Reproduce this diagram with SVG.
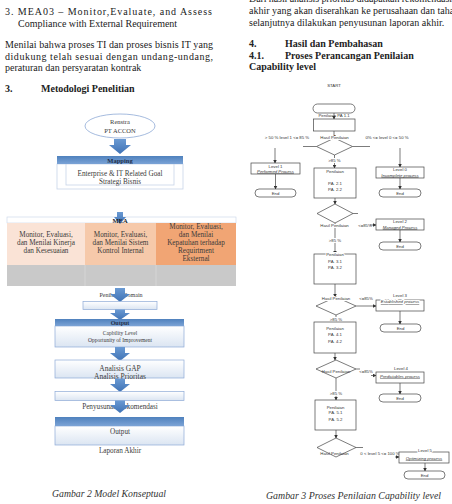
<svg xmlns="http://www.w3.org/2000/svg" width="452" height="504" viewBox="0 0 452 504">
<defs>
<style>
.body{font-family:"Liberation Serif","Times New Roman",serif;font-size:10px;fill:#222}
.bold{font-weight:bold}
.cap{font-family:"Liberation Serif",serif;font-size:11.2px;font-style:italic;fill:#333}
.lt{font-family:"Liberation Serif",serif;font-size:7.2px;fill:#3a3a3a;text-anchor:middle}
.fl{stroke:#444;stroke-width:0.7;fill:none}
.fb{stroke:#444;stroke-width:0.7;fill:#fff}
.ft{font-family:"Liberation Sans",Arial,sans-serif;font-size:4.3px;fill:#333;text-anchor:middle}
.fi{font-style:italic;text-decoration:underline}
.halo{stroke:#fff;stroke-width:2;paint-order:stroke}
.blk{fill:url(#ga)}
</style>
<linearGradient id="gh" x1="0" y1="0" x2="0" y2="1"><stop offset="0" stop-color="#4f81bd"/><stop offset="1" stop-color="#7ba3d6"/></linearGradient>
<linearGradient id="gb" x1="0" y1="0" x2="0" y2="1"><stop offset="0" stop-color="#ffffff"/><stop offset="1" stop-color="#dbe5f2"/></linearGradient>
<linearGradient id="ga" x1="0" y1="0" x2="0" y2="1"><stop offset="0" stop-color="#6a9ad3"/><stop offset="1" stop-color="#3f72b5"/></linearGradient>
<marker id="ah" markerWidth="4" markerHeight="4" refX="3.5" refY="2" orient="auto" markerUnits="userSpaceOnUse"><path d="M0,0 L4,2 L0,4 Z" fill="#333"/></marker>
</defs>
<rect width="452" height="504" fill="#fff"/>

<g id="text-left">
<text class="body" x="5" y="15" textLength="207" lengthAdjust="spacing">3. MEA03 – Monitor,Evaluate, and Assess</text>
<text class="body" x="18" y="26.5">Compliance with External Requirement</text>
<text class="body" x="5" y="48" textLength="208" lengthAdjust="spacing">Menilai bahwa proses TI dan proses bisnis IT yang</text>
<text class="body" x="5" y="59.5" textLength="208" lengthAdjust="spacing">didukung telah sesuai dengan undang-undang,</text>
<text class="body" x="5" y="71">peraturan dan persyaratan kontrak</text>
<text class="body bold" x="5" y="92">3.</text>
<text class="body bold" x="41" y="92">Metodologi Penelitian</text>
</g>

<g id="text-right">
<text class="body" x="249" y="2" textLength="203" lengthAdjust="spacing">Dari hasil analisis prioritas didapatkan rekomendasi</text>
<text class="body" x="249" y="14">akhir yang akan diserahkan ke perusahaan dan taha</text>
<text class="body" x="249" y="25.5">selanjutnya dilakukan penyusunan laporan akhir.</text>
<text class="body bold" x="249" y="47">4.</text>
<text class="body bold" x="285" y="47">Hasil dan Pembahasan</text>
<text class="body bold" x="249" y="58.5">4.1.</text>
<text class="body bold" x="285" y="58.5">Proses Perancangan Penilaian</text>
<text class="body bold" x="249" y="70">Capability level</text>
</g>

<g id="renstra">
<ellipse cx="120" cy="126" rx="35" ry="12" fill="#fff" stroke="#8eaad6" stroke-width="0.8"/>
<text class="lt" x="120" y="124" style="font-size:6.5px">Renstra</text>
<text class="lt" x="120" y="132.5" style="font-size:6.5px">PT ACCON</text>
</g>
<g id="connectors-left">
<path class="blk" d="M114,139 H126 V145 H131 L120,154 L109,145 H114 Z"/>
</g>
<g id="mapping">
<rect x="57" y="164" width="126" height="25" fill="#fff" stroke="#c7d4e8" stroke-width="0.8"/>
<rect x="66" y="164" width="108" height="21" fill="#fff" stroke="#c7d4e8" stroke-width="0.8"/>
<rect x="57" y="156" width="126" height="8" fill="url(#gh)"/>
<text class="lt bold" x="120" y="162.5" style="font-size:6.5px;fill:#1f2f4a">Mapping</text>
<text class="lt" x="120" y="176">Enterprise &amp; IT Related Goal</text>
<text class="lt" x="120" y="184">Strategi Bisnis</text>
</g>
<g id="mea">
<rect x="7" y="217" width="229" height="6" fill="#fff" stroke="#c7d4e8" stroke-width="0.6"/>
<rect x="7" y="223" width="78" height="42" fill="#fae3d6"/>
<rect x="85" y="223" width="71" height="42" fill="#f6c9aa"/>
<rect x="156" y="223" width="80" height="42" fill="#f1a574"/>
<rect x="7" y="265" width="229" height="21" fill="#c9c9c9"/>
<line x1="85" y1="265" x2="85" y2="286" stroke="#dedede" stroke-width="0.6"/>
<line x1="156" y1="265" x2="156" y2="286" stroke="#dedede" stroke-width="0.6"/>
<path class="blk" d="M117,212 H123 V217 H126 L120,224 L114,217 H117 Z"/>
<text class="lt bold" x="120" y="222.5" style="font-size:6.5px;fill:#222">MEA</text>
<text class="lt" x="46" y="236.5">Monitor, Evaluasi,</text>
<text class="lt" x="46" y="244.5">dan Menilai Kinerja</text>
<text class="lt" x="46" y="252.5">dan Kesesuaian</text>
<text class="lt" x="120.5" y="236.5">Monitor, Evaluasi,</text>
<text class="lt" x="120.5" y="244.5">dan Menilai Sistem</text>
<text class="lt" x="120.5" y="252.5">Kontrol Internal</text>
<text class="lt" x="196" y="229">Monitor, Evaluasi,</text>
<text class="lt" x="196" y="237">dan Menilai</text>
<text class="lt" x="196" y="245">Kepatuhan terhadap</text>
<text class="lt" x="196" y="253">Requirtment</text>
<text class="lt" x="196" y="261">Eksternal</text>
</g>
<g id="penilaian-domain">
<text class="lt" x="121" y="297" style="font-size:6px">Penilaian Domain</text>
<path class="blk" d="M115,288 H125 V294 H130 L120,302 L110,294 H115 Z"/>
<rect x="83" y="301.5" width="74" height="8" fill="url(#gb)" stroke="#8eaad6" stroke-width="0.7"/>
</g>
<g id="output1">
<path class="blk" d="M115,309.5 H125 V313 H130 L120,320 L110,313 H115 Z"/>
<rect x="55" y="326" width="129" height="21" fill="url(#gb)" stroke="#8eaad6" stroke-width="0.7"/>
<rect x="55" y="319" width="129" height="7" fill="url(#gh)"/>
<text class="lt bold" x="120" y="325" style="font-size:6px;fill:#1f2f4a">Output</text>
<text class="lt" x="120" y="335" style="font-size:5.5px">Capbility Level</text>
<text class="lt" x="120" y="341.5" style="font-size:5.5px">Opportunity of Improvement</text>
</g>
<g id="analisis">
<path class="blk" d="M115,347 H125 V353 H130 L120,361 L110,353 H115 Z"/>
<rect x="55" y="360" width="129" height="18" fill="url(#gb)" stroke="#8eaad6" stroke-width="0.7"/>
<text class="lt" x="120" y="370.5" style="font-size:7.5px">Analisis GAP</text>
<text class="lt" x="120" y="378.5" style="font-size:7.5px">Analisis Prioritas</text>
</g>
<g id="penyusunan">
<path class="blk" d="M115,378.5 H125 V384 H130 L120,392 L110,384 H115 Z"/>
<rect x="55" y="391.5" width="129" height="9" fill="url(#gb)" stroke="#8eaad6" stroke-width="0.7"/>
<text class="lt" x="120" y="408.5">Penyusunan Rekomendasi</text>
<path class="blk" d="M115,400.5 H125 V405 H130 L120,413 L110,405 H115 Z"/>
</g>
<g id="output2">
<rect x="55" y="426" width="129" height="19" fill="url(#gb)" stroke="#8eaad6" stroke-width="0.7"/>
<rect x="55" y="417" width="129" height="9" fill="url(#gh)"/>
<text class="lt" x="120" y="433.5">Output</text>
<text class="lt" x="120" y="452.5">Laporan Akhir</text>
</g>
<text class="cap" x="52" y="496.5" textLength="114" lengthAdjust="spacingAndGlyphs">Gambar 2 Model Konseptual</text>

<g id="connectors-flow">
<line class="fl" x1="334" y1="113" x2="334" y2="119" marker-end="url(#ah)"/>
<line class="fl" x1="334" y1="131" x2="334" y2="138" marker-end="url(#ah)"/>
<line class="fl" x1="316.5" y1="146.5" x2="303" y2="146.5"/>
<line class="fl" x1="352.5" y1="146.5" x2="370" y2="146.5"/>
<line class="fl" x1="275" y1="148" x2="275" y2="163" marker-end="url(#ah)"/>
<line class="fl" x1="400" y1="148" x2="400" y2="167" marker-end="url(#ah)"/>
<line class="fl" x1="275.5" y1="174" x2="275.5" y2="189" marker-end="url(#ah)"/>
<line class="fl" x1="400" y1="178" x2="400" y2="189" marker-end="url(#ah)"/>
<line class="fl" x1="334.5" y1="155" x2="334.5" y2="168" marker-end="url(#ah)"/>
<line class="fl" x1="335" y1="198" x2="335" y2="204" marker-end="url(#ah)"/>
<line class="fl" x1="353" y1="213.5" x2="358" y2="213.5"/>
<line class="fl" x1="370" y1="225" x2="376" y2="225" marker-end="url(#ah)"/>
<line class="fl" x1="400" y1="230" x2="400" y2="242" marker-end="url(#ah)"/>
<line class="fl" x1="335" y1="223" x2="335" y2="254" marker-end="url(#ah)"/>
<line class="fl" x1="335" y1="284" x2="335" y2="297" marker-end="url(#ah)"/>
<line class="fl" x1="356" y1="306" x2="376" y2="306" marker-end="url(#ah)"/>
<line class="fl" x1="400" y1="311" x2="400" y2="324" marker-end="url(#ah)"/>
<line class="fl" x1="336" y1="315" x2="336" y2="322" marker-end="url(#ah)"/>
<line class="fl" x1="335" y1="353" x2="335" y2="360" marker-end="url(#ah)"/>
<line class="fl" x1="356" y1="369" x2="360" y2="369"/>
<line class="fl" x1="371" y1="375.5" x2="376" y2="375.5" marker-end="url(#ah)"/>
<line class="fl" x1="400" y1="383" x2="400" y2="394" marker-end="url(#ah)"/>
<line class="fl" x1="336" y1="378" x2="336" y2="400" marker-end="url(#ah)"/>
<line class="fl" x1="336" y1="430" x2="336" y2="438" marker-end="url(#ah)"/>
<line class="fl" x1="356" y1="447.5" x2="363" y2="447.5"/>
<line class="fl" x1="395" y1="457" x2="399" y2="457" marker-end="url(#ah)"/>
<line class="fl" x1="425" y1="463" x2="425" y2="471" marker-end="url(#ah)"/>
</g>

<g id="start">
<text class="ft" x="334" y="87">START</text>
<rect class="fb" x="313" y="104" width="42" height="9" rx="4.5"/>
</g>
<g id="pa11">
<rect class="fb" x="313.5" y="119" width="41.5" height="12"/>
<text class="ft" x="334" y="116.5">Penilaian PA 1.1</text>
</g>
<g id="d1">
<polygon class="fb" points="334.5,138 352.5,146.5 334.5,155 316.5,146.5"/>
<text class="ft halo" x="334.5" y="139">Hasil Penilaian</text>
<text class="ft" x="287" y="138.5">&gt; 50 % level 1 &lt;= 85 %</text>
<text class="ft" x="387" y="138.5">0% &lt;= level 0 &lt;= 50 %</text>
<text class="ft halo" x="334.5" y="161.5">&gt;85 %</text>
</g>
<g id="level1">
<rect class="fb" x="251" y="163" width="49" height="11"/>
<text class="ft" x="275.5" y="167.5">Level 1</text>
<text class="ft fi" x="275.5" y="172.5">Performed Process</text>
</g>
<g id="end1"><rect class="fb" x="255" y="189" width="41" height="8" rx="4"/><text class="ft" x="275.5" y="194.5">End</text></g>
<g id="level0">
<rect class="fb" x="376" y="167" width="48" height="11"/>
<text class="ft" x="400" y="171">Level 0</text>
<text class="ft fi" x="400" y="176.5">Incomplete process</text>
</g>
<g id="end0"><rect class="fb" x="379" y="189" width="42" height="8" rx="4"/><text class="ft" x="400" y="194.5">End</text></g>
<g id="pa2">
<rect class="fb" x="314" y="168" width="42" height="30"/>
<text class="ft" x="335" y="172.5">Penilaian</text>
<text class="ft" x="335" y="184.5">PA. 2.1</text>
<text class="ft" x="335" y="190.5">PA. 2.2</text>
</g>
<g id="d2">
<polygon class="fb" points="335,204 353,213.5 335,223 317,213.5"/>
<text class="ft halo" x="334.5" y="227">Hasil Penilaian</text>
<text class="ft" x="365" y="226.5">&lt;=85%</text>
<text class="ft halo" x="335" y="241.5">&gt;85 %</text>
</g>
<g id="level2">
<rect class="fb" x="376" y="219" width="48" height="11"/>
<text class="ft" x="400" y="223">Level 2</text>
<text class="ft fi" x="400" y="228.5">Managed Process</text>
</g>
<g id="end2"><rect class="fb" x="379" y="242" width="42" height="8" rx="4"/><text class="ft" x="400" y="247.5">End</text></g>
<g id="pa3">
<rect class="fb" x="314" y="254" width="42" height="30"/>
<text class="ft halo" x="335" y="256">Penilaian</text>
<text class="ft" x="335" y="262.5">PA. 3.1</text>
<text class="ft" x="335" y="268.5">PA. 3.2</text>
</g>
<g id="d3">
<polygon class="fb" points="336,297 356,306 336,315 316,306"/>
<text class="ft halo" x="336" y="299.5">Hasil Penilaian</text>
<text class="ft" x="366" y="299.5">&lt;=85%</text>
<text class="ft halo" x="336" y="320.5">&gt;85 %</text>
</g>
<g id="level3">
<rect class="fb" x="376" y="300" width="48" height="11"/>
<text class="ft" x="400" y="297">Level 3</text>
<text class="ft fi halo" x="400" y="303">Established process</text>
</g>
<g id="end3"><rect class="fb" x="380" y="324" width="41" height="8" rx="4"/><text class="ft" x="400.5" y="329.5">End</text></g>
<g id="pa4">
<rect class="fb" x="314" y="322" width="42" height="31"/>
<text class="ft" x="335" y="329.5">Penilaian</text>
<text class="ft" x="335" y="336">PA. 4.1</text>
<text class="ft" x="335" y="342.5">PA. 4.2</text>
</g>
<g id="d4">
<polygon class="fb" points="336,360 356,369 336,378 316,369"/>
<text class="ft" x="336" y="373">Hasil Penilaian</text>
<text class="ft" x="366" y="373">&lt;=85%</text>
<text class="ft halo" x="336" y="395">&gt;85 %</text>
</g>
<g id="level4">
<rect class="fb" x="376" y="372" width="48" height="11"/>
<text class="ft" x="401" y="370">Level 4</text>
<text class="ft fi" x="400" y="377.5">Predictables process</text>
</g>
<g id="end4"><rect class="fb" x="379" y="394" width="42" height="8" rx="4"/><text class="ft" x="400" y="399.5">End</text></g>
<g id="pa5">
<rect class="fb" x="315" y="400" width="41" height="30"/>
<text class="ft" x="335.5" y="408.5">Penilaian</text>
<text class="ft" x="335.5" y="414">PA. 5.1</text>
<text class="ft" x="335.5" y="420.5">PA. 5.2</text>
</g>
<g id="d5">
<polygon class="fb" points="336,438 356,447.5 336,457 317,447.5"/>
<text class="ft" x="334.5" y="455">Hasil Penilaian</text>
<text class="ft" x="380" y="455">0 &lt; level 5 &lt;= 100 %</text>
</g>
<g id="level5">
<rect class="fb" x="399" y="452" width="50" height="11"/>
<text class="ft halo" x="425" y="452">Level 5</text>
<text class="ft fi" x="424" y="459.5">Optimizing process</text>
</g>
<g id="end5"><rect class="fb" x="404" y="471" width="41" height="8" rx="4"/><text class="ft" x="424.5" y="476.5">End</text></g>
<text class="cap" x="266" y="498.5" textLength="175" lengthAdjust="spacingAndGlyphs">Gambar 3 Proses Penilaian Capability level</text>
</svg>
